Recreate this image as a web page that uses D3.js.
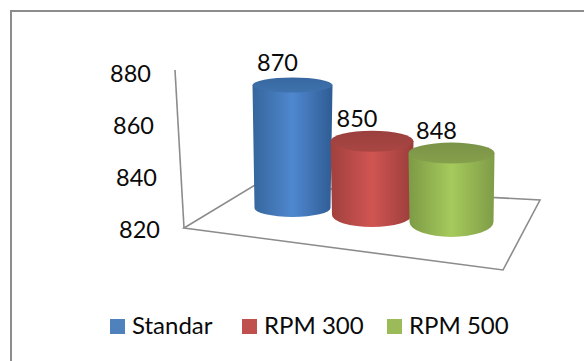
<!DOCTYPE html>
<html>
<head>
<meta charset="utf-8">
<script src="https://cdn.jsdelivr.net/npm/d3@7"></script>
<style>
    html, body { margin: 0; background: #fff; overflow: hidden; }
    text { font-family: Lato, "Open Sans", sans-serif; fill: #0a0a0a; }
</style>
</head>
<body>
<div id="container"></div>
<script>
const categories = ["Standar", "RPM 300", "RPM 500"];
const values = [870, 850, 848];
const tickValues = [820, 840, 860, 880];

const palette = {
    "Standar": { swatch: "#4f81bd", edge: "#35659c", mid: "#4f88cf", right: "#2f5c94", top: "#37679f", rim: "#3f73ad" },
    "RPM 300": { swatch: "#c0504d", edge: "#a0403e", mid: "#d05552", right: "#9a3d3b", top: "#9a403e", rim: "#a94643" },
    "RPM 500": { swatch: "#9bbb59", edge: "#7d9a45", mid: "#a6ca5c", right: "#7f9c47", top: "#7a9347", rim: "#85a04c" }
};

const width = 584, height = 361;
const svg = d3.select("#container").append("svg")
    .attr("width", width)
    .attr("height", height);
const defs = svg.append("defs");

// outer frame, open on the right and at the bottom
svg.append("path")
    .attr("d", "M11,361V11H584")
    .attr("fill", "none")
    .attr("stroke", "#8c8c8c")
    .attr("stroke-width", 2);

// floor of the 3D box
const floor = d3.line();
svg.append("path")
    .attr("d", floor([[184, 228], [255, 185], [540, 200], [503, 270]]) + "Z")
    .attr("fill", "none")
    .attr("stroke", "#8c8c8c")
    .attr("stroke-width", 1.6);

// value axis leans a little, so the line and labels both drift with the value
const domain = [820, 880];
const wallX = d3.scaleLinear().domain(domain).range([184, 175]);
const wallY = d3.scaleLinear().domain(domain).range([228, 70]);
svg.append("line")
    .attr("x1", wallX(820)).attr("y1", wallY(820))
    .attr("x2", wallX(880)).attr("y2", wallY(880))
    .attr("stroke", "#8c8c8c")
    .attr("stroke-width", 1.6);

const labelY = d3.scaleLinear().domain(domain).range([230, 74]);
const labelX = d3.scaleLinear().domain(domain).range([160, 151]);
const axis = svg.append("g")
    .call(d3.axisLeft(labelY).tickValues(tickValues).tickSize(0).tickPadding(0).tickFormat(d3.format("d")));
axis.select(".domain").remove();
axis.attr("font-size", null).attr("font-family", null);
axis.selectAll(".tick")
    .attr("transform", d => "translate(" + labelX(d) + "," + labelY(d) + ")");
axis.selectAll(".tick text")
    .attr("font-size", 23.5)
    .attr("fill", "#0a0a0a");

// cylinders
const cx = d3.scalePoint().domain(categories).range([292.5, 451.5]);
const baseY = d3.scalePoint().domain(categories).range([208, 222]);
const baseRy = d3.scalePoint().domain(categories).range([9, 15]);
const baseRx = d3.scalePoint().domain(categories).range([38, 42]);
const topRx = d3.scalePoint().domain(categories).range([40, 43]);
const topRy = d3.scaleOrdinal().domain(categories).range([7.5, 10.5, 10.5]);
const barHeight = d3.scaleLinear().domain(domain).range([0, 147.6]);

categories.forEach((c, i) => {
    const col = palette[c];
    const grad = defs.append("linearGradient").attr("id", "side" + i);
    grad.append("stop").attr("offset", "0%").attr("stop-color", col.edge);
    grad.append("stop").attr("offset", "50%").attr("stop-color", col.mid);
    grad.append("stop").attr("offset", "100%").attr("stop-color", col.right);

    const capGrad = defs.append("linearGradient").attr("id", "cap" + i)
        .attr("x1", 0).attr("y1", 0).attr("x2", 0).attr("y2", 1);
    capGrad.append("stop").attr("offset", "0%").attr("stop-color", col.top);
    capGrad.append("stop").attr("offset", "100%").attr("stop-color", col.rim);

    const yTop = baseY(c) - barHeight(values[i]);
    const yBase = baseY(c);
    const g = svg.append("g").attr("class", "cylinder");

    const d = "M" + (cx(c) - topRx(c)) + "," + yTop +
        "L" + (cx(c) - baseRx(c)) + "," + yBase +
        "A" + baseRx(c) + "," + baseRy(c) + " 0 0 0 " + (cx(c) + baseRx(c)) + "," + yBase +
        "L" + (cx(c) + topRx(c)) + "," + yTop + "Z";
    g.append("path")
        .attr("d", d)
        .attr("fill", "url(#side" + i + ")");
    g.append("ellipse")
        .attr("cx", cx(c))
        .attr("cy", yTop)
        .attr("rx", topRx(c))
        .attr("ry", topRy(c))
        .attr("fill", "url(#cap" + i + ")");
});

// value labels go on last so the neighbouring cylinder can't cover them
svg.append("g").selectAll("text")
    .data(categories)
    .enter().append("text")
    .attr("x", d => cx(d) - 15)
    .attr("y", (d, i) => baseY(d) - barHeight(values[i]) - 14.5)
    .attr("text-anchor", "middle")
    .attr("font-size", 23.5)
    .text((d, i) => values[i]);

// legend
const legendX = d3.scaleOrdinal().domain(categories).range([110, 242, 387]);
const legend = svg.append("g").selectAll("g")
    .data(categories)
    .enter().append("g")
    .attr("transform", d => "translate(" + legendX(d) + ",319)");
legend.append("rect")
    .attr("width", 15)
    .attr("height", 15)
    .attr("fill", d => palette[d].swatch);
legend.append("text")
    .attr("x", 22)
    .attr("y", 15)
    .attr("font-size", 24)
    .text(d => d);
</script>
</body>
</html>
